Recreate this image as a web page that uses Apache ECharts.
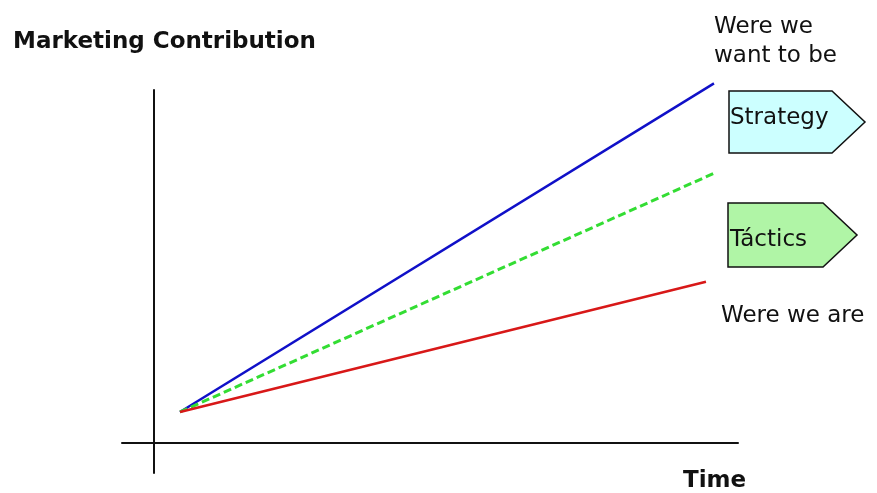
<!DOCTYPE html>
<html>
<head>
<meta charset="utf-8">
<script src="https://cdn.jsdelivr.net/npm/echarts@6/dist/echarts.min.js"></script>
<style>
  html, body { margin: 0; padding: 0; background: #fff; }
  #chart { width: 877px; height: 493px; }
</style>
</head>
<body>
<div id="chart"></div>
<script>
// time positions (start / end) for each line
const timeStrategy = [1, 21]
const timeTactics = [1, 21]
const timeCurrent = [1, 20.7]
// marketing contribution values
const strategyValues = [1, 11.6]
const tacticsValues = [1, 8.7]
const currentValues = [1, 5.2]

const pairs = (xs, ys) => xs.map((x, i) => [x, ys[i]])

const font = '"DejaVu Sans", Verdana, sans-serif'
const chart = echarts.init(document.getElementById('chart'))

const label = (text, x, y, bold, lh) => ({
  type: 'text', x: x, y: y,
  style: {
    text: text, x: 0, y: 0, verticalAlign: 'top',
    font: (bold ? 'bold ' : '') + '23px ' + font,
    lineHeight: lh || 23, fill: '#111'
  }
})

const option = {
  backgroundColor: '#fff',
  animation: false,
  grid: { left: 122, right: 139, top: 90, bottom: 20 },
  xAxis: {
    type: 'value',
    min: -1.172,
    max: 21.9,
    axisLine: { onZero: true, lineStyle: { color: '#111', width: 2 } },
    axisTick: { show: false },
    axisLabel: { show: false },
    splitLine: { show: false }
  },
  yAxis: {
    type: 'value',
    min: -0.968,
    max: 11.387,
    axisLine: { show: true, onZero: true, lineStyle: { color: '#111', width: 2 } },
    axisTick: { show: false },
    axisLabel: { show: false },
    splitLine: { show: false }
  },
  series: [
    {
      name: 'Strategy',
      type: 'line',
      clip: false,
      symbol: 'none',
      lineStyle: { color: '#1010c8', width: 2.5 },
      data: pairs(timeStrategy, strategyValues)
    },
    {
      name: 'Tactics',
      type: 'line',
      clip: false,
      symbol: 'none',
      lineStyle: { color: '#33dd33', width: 3, type: [8, 4] },
      data: pairs(timeTactics, tacticsValues)
    },
    {
      name: 'Current',
      type: 'line',
      clip: false,
      symbol: 'none',
      lineStyle: { color: '#d81818', width: 2.5 },
      data: pairs(timeCurrent, currentValues)
    }
  ],
  graphic: [
    label('Marketing Contribution', 13, 31, true),
    label('Time', 683, 470, true),
    label('Were we\nwant to be', 714, 13, false, 29),
    label('Were we are', 721, 305, false),
    {
      type: 'polygon',
      shape: { points: [[729, 91], [832, 91], [865, 122], [832, 153], [729, 153]] },
      style: { fill: '#ccffff', stroke: '#111', lineWidth: 1.5 }
    },
    label('Strategy', 730, 107, false),
    {
      type: 'polygon',
      shape: { points: [[728, 203], [823, 203], [857, 235], [823, 267], [728, 267]] },
      style: { fill: '#b0f5a6', stroke: '#111', lineWidth: 1.5 }
    },
    label('Táctics', 730, 229, false)
  ]
}
chart.setOption(option)
</script>
</body>
</html>
